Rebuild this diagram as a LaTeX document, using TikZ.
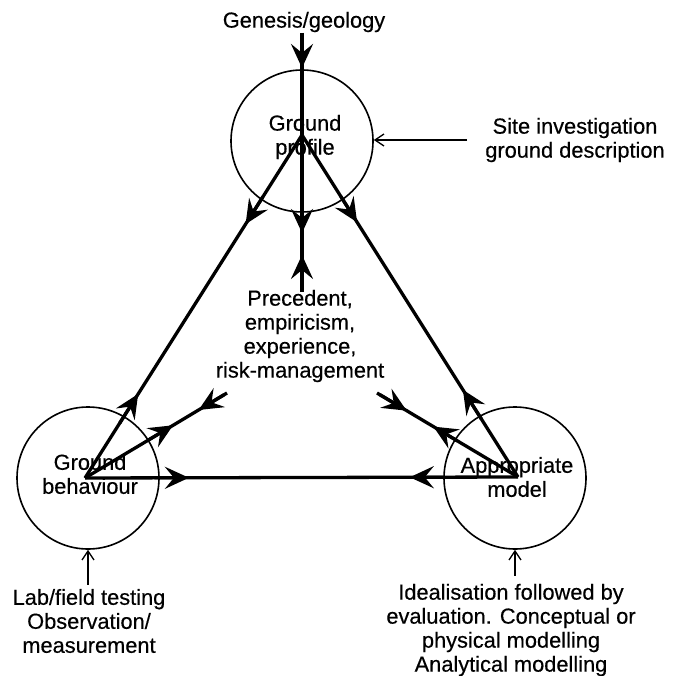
\documentclass[tikz,border=0pt]{standalone}
\usepackage{fontspec}
\setmainfont{Liberation Sans}[FakeBold=0.4]
\usetikzlibrary{arrows.meta,calc}
\begin{document}
\begin{tikzpicture}[x=1pt,y=-1pt,
  circ/.style={draw,circle,line width=1.6pt,minimum size=142pt,inner sep=0pt},
  lbl/.style={align=center,font=\fontsize{21.8}{24}\selectfont,inner sep=0pt},
  heavy/.style={line width=3.3pt},
  tipped/.style={line width=3.3pt,-{Stealth[length=24pt,width=22pt,inset=9pt]}},
  thinarr/.style={line width=1.3pt,-{Straight Barb[length=9pt,width=12pt]}}
]
\useasboundingbox (0,0) rectangle (676,676);
% circles
\node[circ] (tp) at (302,141) {};
\node[circ] (gb) at (88,478) {};
\node[circ] (am) at (515,478) {};
% labels
\node[lbl] (tpt) at (305,137) {Ground\\profile};
\node[lbl] (gbt) at (90,474) {Ground\\behaviour};
\node[lbl] (amt) at (517,477) {Appropriate\\model};
\node[lbl] (gen) at (304,22) {Genesis/geology};
\node[lbl] (site) at (575,140) {Site investigation\\ground description};
\node[lbl] (prec) at (300,336) {Precedent,\\empiricism,\\experience,\\risk-management};
\node[lbl] (lab) at (89,621) {Lab/field testing\\Observation/\\measurement};
\node[lbl] (ideal) at (511,630) {Idealisation followed by\\evaluation. Conceptual or\\physical modelling\\Analytical modelling};
% vertices
\coordinate (P) at (302,135);
\coordinate (B) at (85,478);
\coordinate (M) at (518,477);
\coordinate (L2) at (227,393);
\coordinate (R2) at (377,393);
\coordinate (vtop) at (302,33);
\coordinate (vbot) at (302,292);
% triangle sides
\draw[heavy] (P) -- (B);
\draw[tipped] ($(P)!0.18!(B)$) -- ($(P)!0.26!(B)$);
\draw[tipped] ($(P)!0.84!(B)$) -- ($(P)!0.755!(B)$);
\draw[heavy] (P) -- (M);
\draw[tipped] ($(P)!0.18!(M)$) -- ($(P)!0.255!(M)$);
\draw[tipped] ($(P)!0.83!(M)$) -- ($(P)!0.745!(M)$);
\draw[heavy] (B) -- (M);
\draw[tipped] ($(B)!0.16!(M)$) -- ($(B)!0.24!(M)$);
\draw[tipped] ($(B)!0.83!(M)$) -- ($(B)!0.75!(M)$);
% inner lines
\draw[heavy] (B) -- (L2);
\draw[tipped] ($(B)!0.45!(L2)$) -- ($(B)!0.62!(L2)$);
\draw[tipped] ($(B)!0.98!(L2)$) -- ($(B)!0.80!(L2)$);
\draw[heavy] (M) -- (R2);
\draw[tipped] ($(M)!0.43!(R2)$) -- ($(M)!0.60!(R2)$);
\draw[tipped] ($(M)!0.98!(R2)$) -- ($(M)!0.79!(R2)$);
% vertical
\draw[heavy] (vtop) -- (vbot);
\draw[tipped] (vtop) -- ($(vtop)!0.135!(vbot)$);
\draw[tipped] ($(vtop)!0.66!(vbot)$) -- ($(vtop)!0.772!(vbot)$);
\draw[tipped] (vbot) -- ($(vtop)!0.857!(vbot)$);
% thin arrows
\draw[thinarr] ([xshift=-18pt]site.west) -- (site.west -| tp.east);
\draw[thinarr] ([yshift=4pt]lab.north -| gb.south) -- (gb.south);
\draw[thinarr] ([yshift=8pt]ideal.north -| am.south) -- (am.south);
\end{tikzpicture}
\end{document}
